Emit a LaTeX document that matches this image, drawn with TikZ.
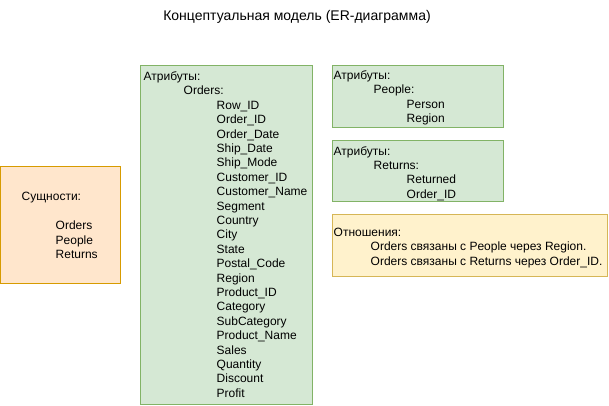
\documentclass[tikz,border=0pt]{standalone}
\usepackage{fontspec}
\setmainfont{Liberation Sans}
\usetikzlibrary{positioning}
\definecolor{EntFill}{HTML}{FFE6CC}
\definecolor{EntLine}{HTML}{D79B00}
\definecolor{AttrFill}{HTML}{D5E8D4}
\definecolor{AttrLine}{HTML}{82B366}
\definecolor{RelFill}{HTML}{FFF2CC}
\definecolor{RelLine}{HTML}{D6B656}

\begin{document}
\begin{tikzpicture}[x=1pt, y=-1pt,
    card/.style={draw, line width=1pt, inner sep=0pt},
    entcard/.style={card, fill=EntFill, draw=EntLine},
    attrcard/.style={card, fill=AttrFill, draw=AttrLine},
    relcard/.style={card, fill=RelFill, draw=RelLine},
    txt/.style={inner sep=0pt, align=left, font=\fontsize{12}{14.4}\selectfont}]
                \useasboundingbox (0,0) rectangle (609,405);
                \node[txt, font=\fontsize{14}{16.8}\selectfont] (title) at (297,17) {Концептуальная модель (ER-диаграмма)};
                % entities
                \node[entcard, minimum width=120pt, minimum height=117pt] (ent) at (60,224.5) {};
                \node[txt, anchor=west, xshift=22pt, yshift=-1pt] (entT) at (ent.west) {Сущности:\\[14.4pt]
                    \hspace*{34pt}Orders\\ \hspace*{34pt}People\\ \hspace*{34pt}Returns};
                % attributes
                \node[attrcard, minimum width=172pt, minimum height=339pt] (orders) at (226,234.5) {};
                \node[txt, anchor=west, xshift=4pt] (ordersT) at (orders.west) {Атрибуты:\\
                    \hspace*{40pt}Orders:\\
                    \hspace*{73pt}Row\_ID\\ \hspace*{73pt}Order\_ID\\ \hspace*{73pt}Order\_Date\\
                    \hspace*{73pt}Ship\_Date\\ \hspace*{73pt}Ship\_Mode\\ \hspace*{73pt}Customer\_ID\\
                    \hspace*{73pt}Customer\_Name\\ \hspace*{73pt}Segment\\ \hspace*{73pt}Country\\
                    \hspace*{73pt}City\\ \hspace*{73pt}State\\ \hspace*{73pt}Postal\_Code\\
                    \hspace*{73pt}Region\\ \hspace*{73pt}Product\_ID\\ \hspace*{73pt}Category\\
                    \hspace*{73pt}SubCategory\\ \hspace*{73pt}Product\_Name\\ \hspace*{73pt}Sales\\
                    \hspace*{73pt}Quantity\\ \hspace*{73pt}Discount\\ \hspace*{73pt}Profit};
                \node[attrcard, minimum width=171pt, minimum height=62pt] (people) at (417.5,96) {};
                \node[txt, anchor=west, xshift=2pt, yshift=-2pt] (peopleT) at (people.west) {Атрибуты:\\
                    \hspace*{40pt}People:\\ \hspace*{73pt}Person\\ \hspace*{73pt}Region};
                \node[attrcard, minimum width=171pt, minimum height=61pt] (returns) at (417.5,170.5) {};
                \node[txt, anchor=west, xshift=2pt, yshift=-3pt] (returnsT) at (returns.west) {Атрибуты:\\
                    \hspace*{40pt}Returns:\\ \hspace*{73pt}Returned\\ \hspace*{73pt}Order\_ID};
                % relations
                \node[relcard, minimum width=275pt, minimum height=62pt] (rel) at (469.5,245) {};
                \node[txt, anchor=west, xshift=2pt, yshift=-3pt] (relT) at (rel.west) {Отношения:\\
                    \hspace*{37pt}Orders связаны с People через Region.\\
                    \hspace*{37pt}Orders связаны с Returns через Order\_ID.};
            \end{tikzpicture}
\end{document}
